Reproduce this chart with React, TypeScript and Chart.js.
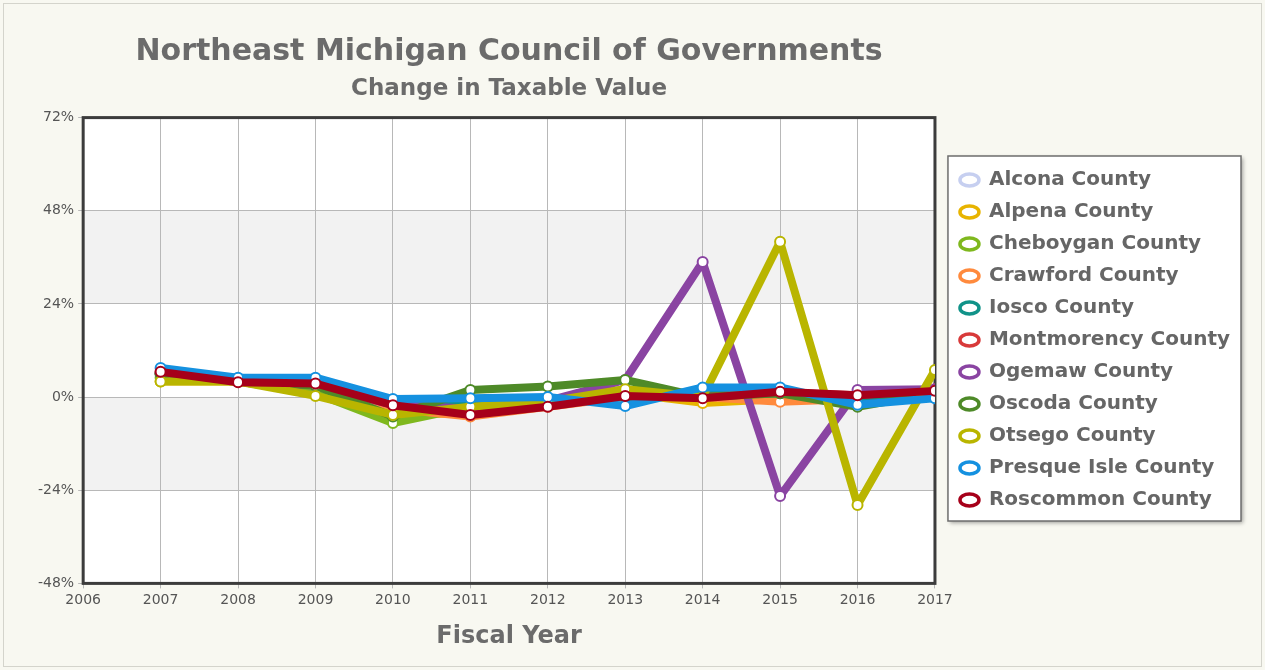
import React, { useEffect, useRef } from "react";
import { Chart, registerables } from "chart.js";

Chart.register(...registerables);

const years = [2007, 2008, 2009, 2010, 2011, 2012, 2013, 2014, 2015, 2016, 2017];

const countyNames = [
  "Alcona County",
  "Alpena County",
  "Cheboygan County",
  "Crawford County",
  "Iosco County",
  "Montmorency County",
  "Ogemaw County",
  "Oscoda County",
  "Otsego County",
  "Presque Isle County",
  "Roscommon County",
];

const countyColors = [
  "#c6cff0",
  "#e8b400",
  "#7fb81e",
  "#ff8a3d",
  "#119389",
  "#d83a3a",
  "#8a44a2",
  "#4e8a28",
  "#b9b500",
  "#1591e0",
  "#a6001a",
];

const alcona = [6, 4, 4, -2, -3, -1, 1, 0, 1, 0, 1];
const alpena = [4, 4, 1, -4, -4.5, -2, 1, -1.5, -0.5, -0.5, 1];
const cheboygan = [5, 4, 1, -6.7, -2.5, -1, 2, 0.5, 0, -1, 1];
const crawford = [6, 4, 3, -3, -5, -2.5, 0, 0, -1.2, -0.5, 1];
const iosco = [6, 4.5, 4, -2, -2, -1, 0, 0.5, 1, -1, 1];
const montmorency = [6.5, 4.5, 4, -2, -4, -2, 0.5, 0, 1.2, 0.5, 2];
const ogemaw = [6, 4, 3, -2, -3, -1, 4.4, 34.8, -25.5, 1.8, 2];
const oscoda = [6, 4, 3, -5, 1.8, 2.7, 4.4, 0, 1, -2.5, 1];
const otsego = [4, 4, 0.3, -4.6, -2.5, -1.2, 2, 0, 40, -27.8, 7];
const presqueIsle = [7.5, 5, 5, -0.5, -0.3, 0, -2.3, 2.5, 2.5, -2, -0.3];
const roscommon = [6.5, 3.8, 3.5, -2.1, -4.6, -2.5, 0.3, -0.3, 1.4, 0.5, 1.6];

const countyValues = [
  alcona,
  alpena,
  cheboygan,
  crawford,
  iosco,
  montmorency,
  ogemaw,
  oscoda,
  otsego,
  presqueIsle,
  roscommon,
];

const xMin = 2006;
const xMax = 2017;
const yMin = -48;
const yMax = 72;
const yStep = 24;
const shadedBands = [
  [24, 48],
  [-24, 0],
];

const titleText = "Northeast Michigan Council of Governments";
const subtitleText = "Change in Taxable Value";
const xAxisTitle = "Fiscal Year";

const FONT = "'DejaVu Sans', Verdana, sans-serif";

const decorPlugin = {
  id: "decor",
  beforeDraw(chart: any) {
    const { ctx, chartArea: a, scales } = chart;
    const y = scales.y;
    ctx.save();
    ctx.fillStyle = "#f8f8f1";
    ctx.fillRect(0, 0, chart.width, chart.height);
    ctx.strokeStyle = "#d4d4cc";
    ctx.lineWidth = 1;
    ctx.strokeRect(3.5, 3.5, chart.width - 7, chart.height - 7);
    ctx.fillStyle = "#ffffff";
    ctx.fillRect(a.left, a.top, a.width, a.height);
    ctx.fillStyle = "#f2f2f2";
    for (const [lo, hi] of shadedBands) {
      const y1 = y.getPixelForValue(hi);
      const y2 = y.getPixelForValue(lo);
      ctx.fillRect(a.left, y1, a.width, y2 - y1);
    }
    const lg = chart.legend;
    if (lg && lg.legendHitBoxes && lg.legendHitBoxes.length) {
      const hb = lg.legendHitBoxes;
      const left = lg.left;
      const top = hb[0].top - 14;
      const bottom = hb[hb.length - 1].top + 31;
      let right = 0;
      for (const h of hb) right = Math.max(right, h.left + h.width);
      right += 11;
      ctx.shadowColor = "rgba(0,0,0,0.35)";
      ctx.shadowBlur = 4;
      ctx.shadowOffsetX = 2;
      ctx.shadowOffsetY = 2;
      ctx.fillStyle = "#ffffff";
      ctx.fillRect(left, top, right - left, bottom - top);
      ctx.shadowColor = "transparent";
      ctx.strokeStyle = "#6e6e6e";
      ctx.lineWidth = 1.5;
      ctx.strokeRect(left, top, right - left, bottom - top);
    }
    ctx.restore();
  },
  beforeDatasetsDraw(chart: any) {
    const { ctx, chartArea: a } = chart;
    ctx.save();
    ctx.strokeStyle = "#3c3c3c";
    ctx.lineWidth = 3;
    ctx.strokeRect(a.left, a.top, a.width, a.height);
    ctx.restore();
  },
};

export default function App() {
  const canvasRef = useRef<HTMLCanvasElement | null>(null);

  useEffect(() => {
    if (!canvasRef.current) return;
    const n = countyNames.length;
    const datasets = countyNames.map((name, i) => ({
      label: name,
      data: years.map((yr, j) => ({ x: yr, y: countyValues[i][j] })),
      borderColor: countyColors[i],
      backgroundColor: countyColors[i],
      borderWidth: 8,
      borderJoinStyle: "round" as const,
      borderCapStyle: "round" as const,
      tension: 0,
      pointRadius: 5,
      pointBorderWidth: 2,
      pointBackgroundColor: "#ffffff",
      pointBorderColor: countyColors[i],
      order: n - i,
      fill: false,
    }));

    const chart = new Chart(canvasRef.current, {
      type: "line",
      data: { datasets },
      options: {
        responsive: false,
        animation: false,
        layout: { padding: { top: 10, bottom: 0, left: 34, right: 25 } },
        plugins: {
          title: {
            display: true,
            text: titleText,
            fullSize: false,
            color: "#6b6b6b",
            font: { family: FONT, size: 30, weight: "bold" },
            padding: { top: 24, bottom: 0 },
          },
          subtitle: {
            display: true,
            text: subtitleText,
            fullSize: false,
            color: "#6b6b6b",
            font: { family: FONT, size: 23, weight: "bold" },
            padding: { top: 5, bottom: 15 },
          },
          legend: {
            position: "right",
            fullSize: true,
            align: "center",
            maxWidth: 420,
            labels: {
              usePointStyle: true,
              pointStyle: "circle",
              pointStyleWidth: 19,
              boxWidth: 19,
              boxHeight: 8.5,
              padding: 12,
              color: "#666666",
              font: { family: FONT, size: 20, weight: "bold" },
              generateLabels: (c: any) =>
                c.data.datasets.map((ds: any, i: number) => ({
                  text: ds.label,
                  fillStyle: "#ffffff",
                  strokeStyle: ds.borderColor,
                  lineWidth: 3.5,
                  pointStyle: "circle",
                  hidden: false,
                  datasetIndex: i,
                  fontColor: "#666666",
                })),
            },
          },
          tooltip: { enabled: false },
        },
        scales: {
          x: {
            type: "linear",
            min: xMin,
            max: xMax,
            ticks: {
              stepSize: 1,
              padding: 4,
              color: "#555555",
              font: { family: FONT, size: 14 },
              callback: (v: any) => String(v),
              maxRotation: 0,
            },
            grid: { color: "#b8b8b8", lineWidth: 1, tickLength: 5 },
            border: { display: false },
            title: {
              display: true,
              text: xAxisTitle,
              color: "#6b6b6b",
              font: { family: FONT, size: 24, weight: "bold" },
              padding: { top: 9, bottom: 19 },
            },
          },
          y: {
            type: "linear",
            min: yMin,
            max: yMax,
            ticks: {
              stepSize: yStep,
              padding: 4,
              color: "#555555",
              font: { family: FONT, size: 14 },
              callback: (v: any) => v + "%",
            },
            grid: { color: "#b8b8b8", lineWidth: 1, tickLength: 5 },
            border: { display: false },
          },
          gap: {
            type: "linear",
            position: "right",
            display: true,
            grid: { display: false },
            ticks: { display: false },
            border: { display: false },
            afterFit: (s: any) => {
              s.width = 13;
            },
          },
        },
      },
      plugins: [decorPlugin],
    } as any);

    return () => chart.destroy();
  }, []);

  return (
    <div style={{ position: "absolute", left: 0, top: 0, width: 1265, height: 670 }}>
      <canvas ref={canvasRef} width={1265} height={670} style={{ display: "block" }} />
    </div>
  );
}
